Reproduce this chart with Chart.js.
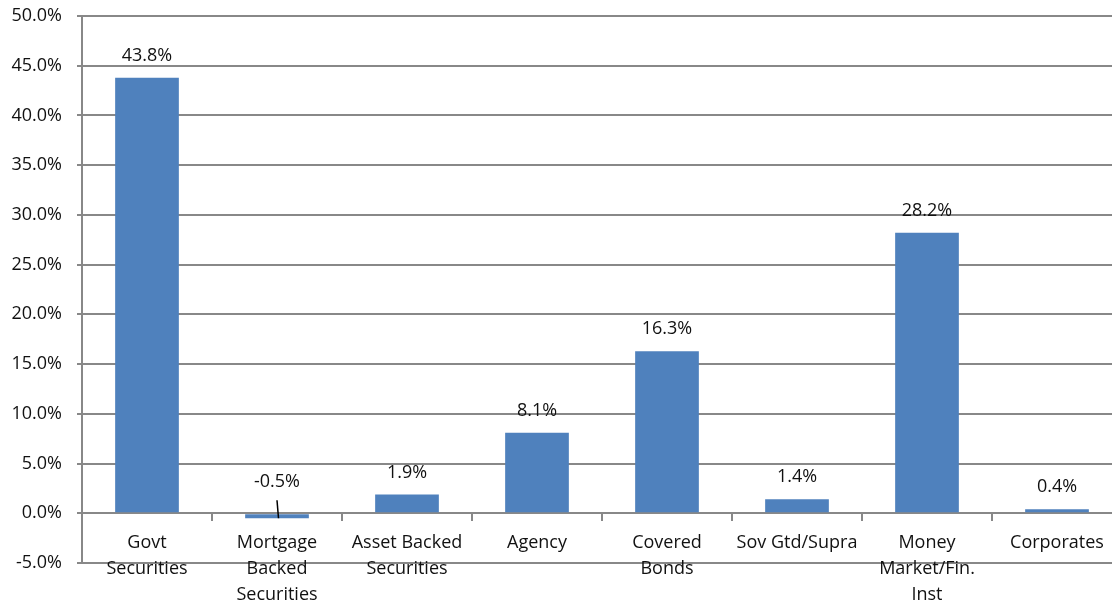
<!DOCTYPE html>
<html>
<head>
<meta charset="utf-8">
<script src="https://cdn.jsdelivr.net/npm/chart.js@4.4.1/dist/chart.umd.min.js"></script>
<style>
  html, body { margin: 0; padding: 0; background: #fff; overflow: hidden; }
  #wrap { width: 1122px; height: 603px; }
</style>
</head>
<body>
<div id="wrap"><canvas id="chart"></canvas></div>
<script>
// sector weights, in percent
const categories = [
  ["Govt", "Securities"],
  ["Mortgage", "Backed", "Securities"],
  ["Asset Backed", "Securities"],
  "Agency",
  ["Covered", "Bonds"],
  "Sov Gtd/Supra",
  ["Money", "Market/Fin.", "Inst"],
  "Corporates"
];
const shares = [43.8, -0.5, 1.9, 8.1, 16.3, 1.4, 28.2, 0.4];
const yMin = -5;
const yMax = 50;
const yStep = 5;

const FONT = "'Open Sans', sans-serif";
const GRID = "#888888";
const TEXT = "#111111";

// values above the bars, with a small leader line for the negative one
const valueLabels = {
  id: "valueLabels",
  afterDatasetsDraw(chart) {
    const ctx = chart.ctx;
    const meta = chart.getDatasetMeta(0);
    const zeroY = chart.scales.y.getPixelForValue(0);
    ctx.save();
    ctx.font = "18px " + FONT;
    ctx.fillStyle = TEXT;
    ctx.textAlign = "center";
    ctx.textBaseline = "middle";
    meta.data.forEach((bar, i) => {
      const v = shares[i];
      const text = v.toFixed(1) + "%";
      if (v >= 0) {
        ctx.fillText(text, bar.x, bar.y - 22);
      } else {
        ctx.fillText(text, bar.x, zeroY - 31);
        ctx.beginPath();
        ctx.strokeStyle = "#000";
        ctx.lineWidth = 1.5;
        ctx.moveTo(bar.x, zeroY - 13);
        ctx.lineTo(bar.x + 1.5, bar.y);
        ctx.stroke();
      }
    });
    ctx.restore();
  }
};

const noPad = s => {
  s.paddingTop = 0;
  s.paddingBottom = 0;
  s.paddingLeft = 0;
  s.paddingRight = 0;
};

new Chart(document.getElementById("chart"), {
  type: "bar",
  data: {
    labels: categories,
    datasets: [{
      data: shares,
      backgroundColor: "#4F81BD",
      borderWidth: 0,
      categoryPercentage: 1,
      barPercentage: 0.49
    }]
  },
  options: {
    responsive: true,
    maintainAspectRatio: false,
    animation: false,
    layout: { padding: { top: 16, bottom: 40, left: 0, right: 0 } },
    plugins: {
      legend: { display: false },
      tooltip: { enabled: false }
    },
    scales: {
      x: {
        position: { y: 0 },
        offset: true,
        afterFit: s => { s.height = 0; noPad(s); },
        grid: {
          offset: true,
          drawOnChartArea: false,
          color: GRID,
          lineWidth: 2,
          tickLength: 7
        },
        border: { color: GRID, width: 2 },
        ticks: {
          color: TEXT,
          padding: 10,
          maxRotation: 0,
          autoSkip: false,
          font: { family: FONT, size: 18, lineHeight: 1.44 }
        }
      },
      y: {
        min: yMin,
        max: yMax,
        afterFit: s => { s.width = 82; noPad(s); },
        grid: { color: GRID, lineWidth: 2, tickLength: 5 },
        border: { color: GRID, width: 2 },
        ticks: {
          stepSize: yStep,
          color: TEXT,
          padding: 15,
          font: { family: FONT, size: 18 },
          callback: v => v.toFixed(1) + "%"
        }
      }
    }
  },
  plugins: [valueLabels]
});
</script>
</body>
</html>
